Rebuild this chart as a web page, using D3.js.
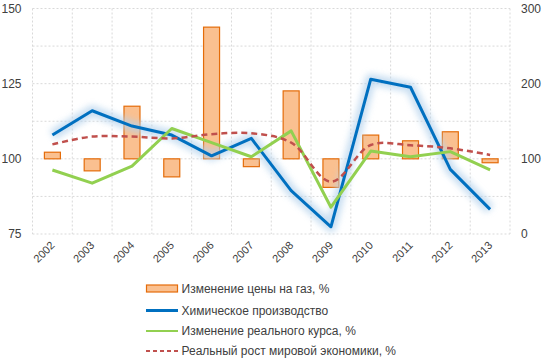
<!DOCTYPE html>
<html><head><meta charset="utf-8">
<script src="https://cdn.jsdelivr.net/npm/d3@7/dist/d3.min.js"></script>
<style>
body{margin:0;background:#fff;}
text{font-family:"Liberation Sans",Arial,sans-serif;}
</style></head>
<body><svg id="c" width="542" height="361"></svg>
<script>
const years = ["2002","2003","2004","2005","2006","2007","2008","2009","2010","2011","2012","2013"];
const gasPrice = [102.2,96,117.5,94,143.8,97.4,122.6,90.5,107.9,106,109,98.7];
const chemProd = [107.9,116.0,110.9,107.9,101.0,106.8,89.4,77.4,126.5,123.8,96.5,83.2];
const realRate = [96.3,91.9,97.6,110.1,105.4,100.7,109.3,83.9,102.6,100.7,102.4,96.3];
const worldGrowth = [104.8,107.4,107.4,106.8,108.2,108.5,105.4,92.4,104.6,104.5,103.5,101.3];
const leftTicks = [75,100,125,150];
const rightTicks = [0,100,200,300];
const legendLabels = ["Изменение цены на газ, %","Химическое производство","Изменение реального курса, %","Реальный рост мировой экономики,  %"];

const svg = d3.select("#c");
const L = 32.5, R = 510, T = 8.5, B = 234;
const x = d3.scaleBand().domain(years).range([L,R]);
const y = d3.scaleLinear().domain([75,150]).range([B,T]);
const y2 = d3.scaleLinear().domain([0,300]).range([B,T]);

const defs = svg.append("defs");
const f = defs.append("filter").attr("id","glow").attr("x","-20%").attr("y","-20%").attr("width","140%").attr("height","140%");
f.append("feGaussianBlur").attr("stdDeviation",3.2);

// grid
const g = svg.append("g");
d3.range(75,150.1,12.5).forEach(v=>{
  g.append("line").attr("x1",L).attr("x2",R).attr("y1",y(v)).attr("y2",y(v))
   .attr("stroke","#d9d9d9").attr("stroke-dasharray","2,2");
});
years.concat(["end"]).forEach((yr,i)=>{
  const xx = L + i*x.bandwidth();
  g.append("line").attr("x1",xx).attr("x2",xx).attr("y1",T).attr("y2",B)
   .attr("stroke","#d9d9d9").attr("stroke-dasharray","2,2");
});

// axes
const axL = svg.append("g").attr("transform",`translate(${L-11},0)`)
  .call(d3.axisLeft(y).tickValues(leftTicks).tickSize(0).tickPadding(0));
axL.select(".domain").remove();
axL.selectAll("text").attr("font-size",12).attr("fill","#404040").attr("font-family","Liberation Sans, Arial");
const axR = svg.append("g").attr("transform",`translate(${R+11},0)`)
  .call(d3.axisRight(y2).tickValues(rightTicks).tickSize(0).tickPadding(0));
axR.select(".domain").remove();
axR.selectAll("text").attr("font-size",12).attr("fill","#404040").attr("font-family","Liberation Sans, Arial");

const axB = svg.append("g").attr("transform",`translate(0,${B})`)
  .call(d3.axisBottom(x).tickSize(0).tickPadding(0));
axB.select(".domain").remove();
axB.selectAll("text").attr("font-size",11).attr("fill","#404040").attr("font-family","Liberation Sans, Arial")
  .attr("text-anchor","end").attr("dy","0").attr("transform","translate(3,12) rotate(-45)");

// bars
const bw = 16;
svg.append("g").selectAll("rect").data(gasPrice).join("rect")
  .attr("x",(d,i)=>x(years[i])+x.bandwidth()/2-bw/2)
  .attr("width",bw)
  .attr("y",d=>y(Math.max(d,100)))
  .attr("height",d=>Math.abs(y(d)-y(100)))
  .attr("fill","#FAC090").attr("stroke","#E46C0A").attr("stroke-width",1.2);

const cx = (d,i)=>x(years[i])+x.bandwidth()/2;
const line = d3.line().x(cx).y(d=>y(d));

// blue glow
svg.append("path").datum(chemProd).attr("d",line).attr("fill","none")
  .attr("stroke","#b3d1ec").attr("stroke-width",11).attr("stroke-linejoin","round")
  .attr("opacity",0.7).attr("filter","url(#glow)");
svg.append("path").datum(chemProd).attr("d",line).attr("fill","none")
  .attr("stroke","#0070C0").attr("stroke-width",3).attr("stroke-linejoin","round");
svg.append("path").datum(realRate).attr("d",line).attr("fill","none")
  .attr("stroke","#92D050").attr("stroke-width",3).attr("stroke-linejoin","round");
svg.append("path").datum(worldGrowth).attr("d",d3.line().x(cx).y(d=>y(d)).curve(d3.curveCatmullRom.alpha(0.5)))
  .attr("fill","none").attr("stroke","#C0504D").attr("stroke-width",2.5).attr("stroke-dasharray","6,4");

// legend
const lg = svg.append("g");
const rows = [288.5,310.5,331,351];
rows.forEach((ry,i)=>{
  if(i===0){
    lg.append("rect").attr("x",146.5).attr("y",ry-3.5).attr("width",31).attr("height",7)
      .attr("fill","#FAC090").attr("stroke","#E46C0A").attr("stroke-width",1.2);
  } else {
    const st = [null,["#0070C0",3,null],["#92D050",2,null],["#C0504D",2.2,"4,3"]][i];
    lg.append("line").attr("x1",146).attr("x2",178).attr("y1",ry).attr("y2",ry)
      .attr("stroke",st[0]).attr("stroke-width",st[1]).attr("stroke-dasharray",st[2]);
  }
  lg.append("text").attr("x",181.5).attr("y",ry+4.3).attr("font-size",12).attr("fill","#404040").text(legendLabels[i]);
});
</script></body></html>
